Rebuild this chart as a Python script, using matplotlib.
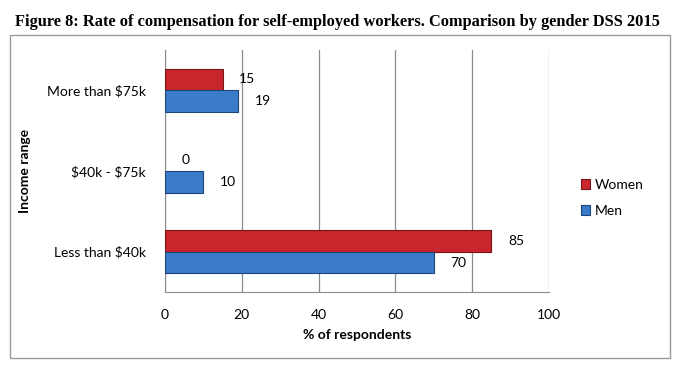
import matplotlib
matplotlib.use("Agg")
import matplotlib.pyplot as plt
import numpy as np
from matplotlib.patches import Rectangle

categories = ["Less than \\$40k", "\\$40k - \\$75k", "More than \\$75k"]
women = [85, 0, 15]
men = [70, 10, 19]
xticks = [0, 20, 40, 60, 80, 100]

plt.rcParams['font.family'] = ['Lato', 'DejaVu Sans']

fig = plt.figure(figsize=(6.78, 3.67), dpi=100)
ax = fig.add_axes([0.2434, 0.2044, 0.5664, 0.6594])

y = np.arange(len(categories))
h = 0.27
bw = ax.barh(y + h / 2, women, height=h, color="#c8262c", edgecolor="#7a1418", linewidth=0.8, label="Women", zorder=3)
bm = ax.barh(y - h / 2, men, height=h, color="#3a7cc9", edgecolor="#1d4677", linewidth=0.8, label="Men", zorder=3)

for bars, vals in ((bw, women), (bm, men)):
    for b, v in zip(bars, vals):
        if v == 0:
            b.set_linewidth(0)
        ax.annotate(str(v), (b.get_width(), b.get_y() + b.get_height() / 2),
                    xytext=(12, 0), textcoords="offset points",
                    ha="left", va="center", fontsize=10)

ax.set_xlim(0, 100)
ax.set_ylim(-0.5, 2.5)
ax.set_xticks(xticks)
ax.set_yticks(y)
ax.set_yticklabels(categories, fontsize=10)
ax.tick_params(axis="both", length=0, labelsize=10)
ax.tick_params(axis="x", pad=12)
ax.tick_params(axis="y", pad=14)
ax.grid(axis="x", color="#8c8c8c", linewidth=0.9, zorder=0)
for s in ("top", "right"):
    ax.spines[s].set_visible(False)
ax.spines["left"].set_color("#8c8c8c")
ax.spines["bottom"].set_color("#8c8c8c")
ax.set_xlabel("% of respondents", fontsize=10, fontweight="bold", labelpad=6)
ax.set_ylabel("Income range", fontsize=10, fontweight="bold")
ax.yaxis.set_label_coords(-0.35, 0.5)

ax.legend(loc="center left", bbox_to_anchor=(1.05, 0.39), frameon=False, fontsize=10,
          handlelength=0.7, handleheight=0.7, handletextpad=0.3, labelspacing=1.0)

fig.patches.append(Rectangle((10 / 678, 1 - 358 / 367), 660 / 678, 323 / 367,
                             transform=fig.transFigure, fill=False, edgecolor="#9a9a9a", linewidth=1.0))
fig.text(337 / 678, 1 - 22 / 367, "Figure 8: Rate of compensation for self-employed workers. Comparison by gender DSS 2015",
         family="Liberation Serif", fontweight="bold", fontsize=11.8, va="center", ha="center")

fig.savefig("out.png", dpi=100)
